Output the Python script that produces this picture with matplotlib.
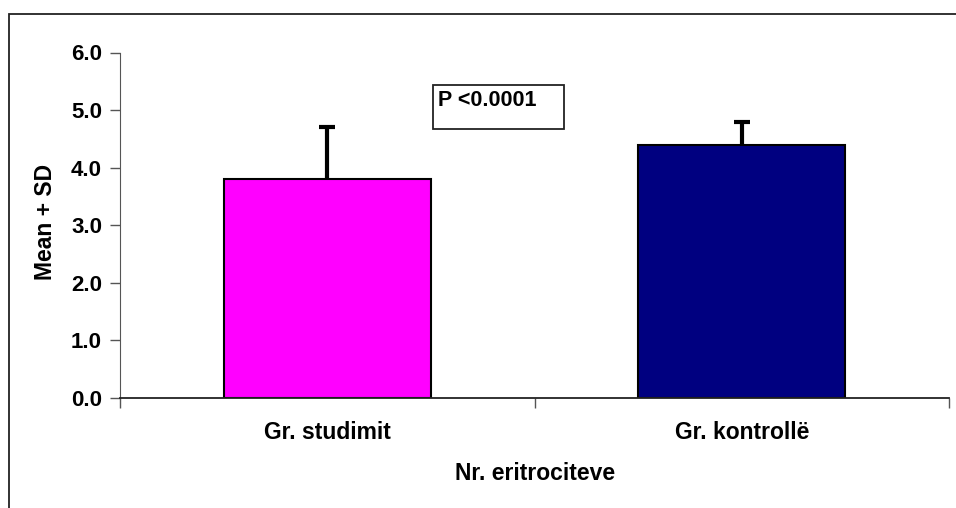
import matplotlib
matplotlib.use("Agg")
import matplotlib.pyplot as plt
from matplotlib.patches import Rectangle

categories = ["Gr. studimit", "Gr. kontrollë"]
means = [3.8, 4.4]
sds = [0.9, 0.4]
bar_colors = ["#FF00FF", "#000080"]
y_ticks = [0.0, 1.0, 2.0, 3.0, 4.0, 5.0, 6.0]
x_title = "Nr. eritrociteve"
y_title = "Mean + SD"
p_text = "P <0.0001"

plt.rcParams["font.family"] = ["Liberation Sans", "DejaVu Sans"]
plt.rcParams["font.weight"] = "bold"

W, H = 956, 508
FS = 16
LABEL_FS = 16.5
fig = plt.figure(figsize=(W / 100, H / 100), dpi=100)

# outer chart frame (runs off the right and bottom edges)
fig.patches.append(Rectangle((9 / W, -0.1), 1.1, 1 - 14 / H + 0.1,
                             transform=fig.transFigure, fill=False,
                             edgecolor="#222222", linewidth=1.3, clip_on=False))

ax = fig.add_axes([120 / W, 1 - 398 / H, (949 - 120) / W, (398 - 52.5) / H])

x = list(range(len(categories)))
ax.bar(x, means, width=0.5, color=bar_colors, edgecolor="black", linewidth=1.5, zorder=2)
_, caps, _ = ax.errorbar(x, means, yerr=[[0] * len(sds), sds], fmt="none",
                         ecolor="black", elinewidth=3, capsize=5.5, capthick=3, zorder=3)
# only the upper cap is shown
caps[0].set_visible(False)

ax.set_xlim(-0.5, len(categories) - 0.5)
ax.set_ylim(0, 6)
ax.set_yticks(y_ticks)
ax.set_yticklabels([f"{v:.1f}" for v in y_ticks], fontsize=FS, fontweight="bold")

# category boundary ticks on the x axis
ax.set_xticks([i - 0.5 for i in range(len(categories) + 1)])
ax.set_xticklabels([])
ax.tick_params(axis="x", direction="out", length=7, width=1, color="#555555")
ax.tick_params(axis="y", direction="out", length=7, width=1, color="#555555", pad=6)
for i, c in enumerate(categories):
    ax.text(i, -0.6, c, ha="center", va="center", fontsize=LABEL_FS, fontweight="bold")

for s in ["top", "right"]:
    ax.spines[s].set_visible(False)
ax.spines["left"].set_color("#555555")
ax.spines["bottom"].set_color("#222222")
ax.spines["bottom"].set_linewidth(1.3)

fig.text(535 / W, 1 - 474 / H, x_title, ha="center", va="center",
         fontsize=LABEL_FS, fontweight="bold")
fig.text(45 / W, 1 - 222 / H, y_title, ha="center", va="center",
         rotation=90, fontsize=LABEL_FS, fontweight="bold")

# p-value box
fig.patches.append(Rectangle((433 / W, 1 - 129 / H), (564 - 433) / W, (129 - 85) / H,
                             transform=fig.transFigure, fill=False,
                             edgecolor="#222222", linewidth=1.3))
fig.text(438 / W, 1 - 100 / H, p_text, ha="left", va="center",
         fontsize=FS - 0.5, fontweight="bold")

fig.savefig("out.png", dpi=100)
